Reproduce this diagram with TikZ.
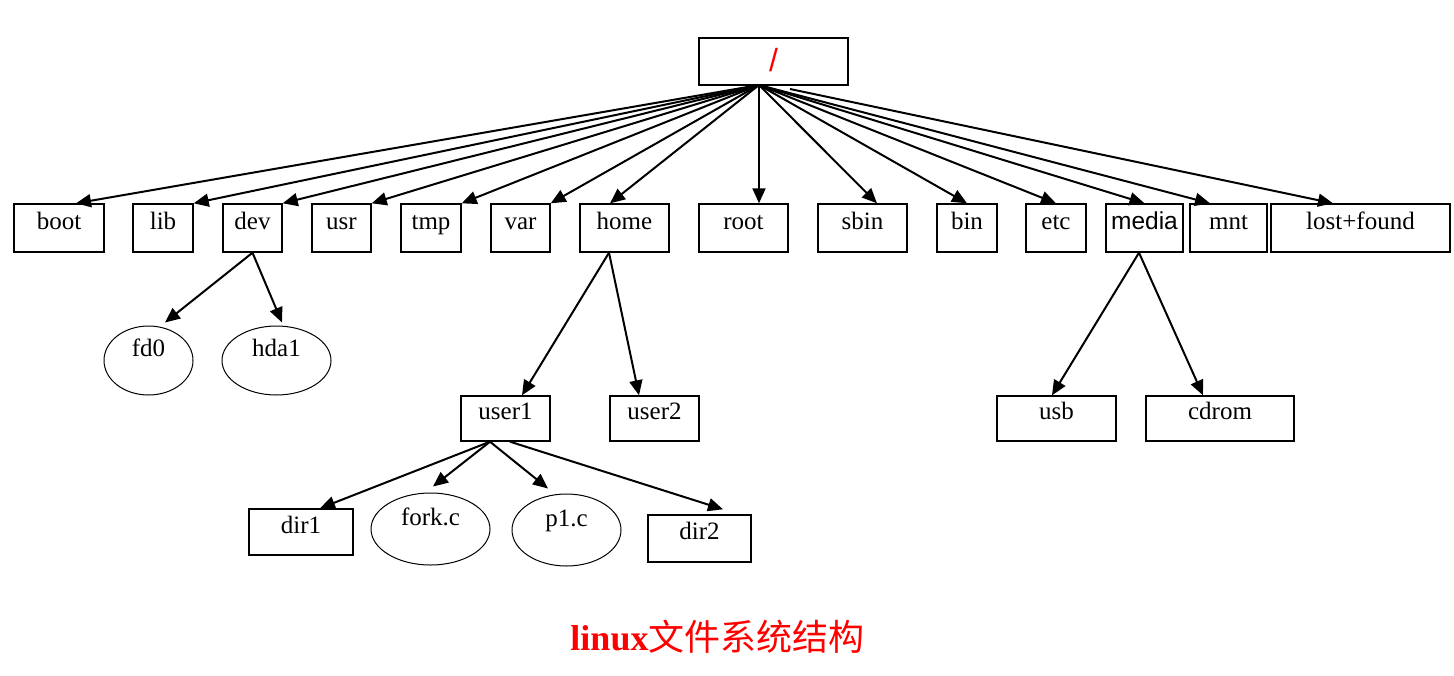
\documentclass[tikz,border=0pt]{standalone}
\usepackage{fontspec}
\setmainfont{Liberation Serif}
\newfontfamily\sansfont{Liberation Sans}
\newfontfamily\cjkfont{Noto Sans CJK SC}
\usepackage{tikz}
\usetikzlibrary{arrows.meta,shapes.geometric}

\begin{document}
\begin{tikzpicture}[x=1pt,y=-1pt,
    font=\fontsize{25}{28}\selectfont,
    dirbox/.style={draw, line width=1.4pt, rectangle, inner sep=0pt,
        minimum height=48pt, text height=16pt, text depth=14pt},
    filebox/.style={draw, line width=1pt, ellipse, inner sep=0pt,
        text height=10pt, text depth=18pt},
    link/.style={line width=2pt, -{Triangle[length=15pt,width=13pt]}}]
        \useasboundingbox (0,0) rectangle (1454,675);
        % root
        \node[dirbox, minimum width=149pt, minimum height=47pt, text height=25pt, text depth=5pt] (slash) at (773.5,61.5)
            {\fontsize{32}{36}\selectfont\sansfont\textcolor{red}{/}};
        \coordinate (src) at (759,85);
        \coordinate (srcb) at (790,89);
        % first level
        \node[dirbox, minimum width=90pt] (boot) at (59,228) {boot};
        \node[dirbox, minimum width=60pt] (lib) at (163,228) {lib};
        \node[dirbox, minimum width=59pt] (dev) at (252.5,228) {dev};
        \node[dirbox, minimum width=59pt] (usr) at (341.5,228) {usr};
        \node[dirbox, minimum width=60pt] (tmp) at (431,228) {tmp};
        \node[dirbox, minimum width=59pt] (var) at (520.5,228) {var};
        \node[dirbox, minimum width=89pt] (home) at (624.5,228) {home};
        \node[dirbox, minimum width=89pt] (rootdir) at (743.5,228) {root};
        \node[dirbox, minimum width=89pt] (sbin) at (862.5,228) {sbin};
        \node[dirbox, minimum width=60pt] (bin) at (967,228) {bin};
        \node[dirbox, minimum width=60pt] (etc) at (1056,228) {etc};
        \node[dirbox, minimum width=77pt, font=\fontsize{24.5}{28}\selectfont\sansfont] (media) at (1144.5,228) {media};
        \node[dirbox, minimum width=77pt] (mnt) at (1228.5,228) {mnt};
        \node[dirbox, minimum width=179pt] (lost) at (1360.5,228) {lost+found};
        \draw[link] (src) -- ([xshift=17pt]boot.north);
        \draw[link] (src) -- (lib.north east);
        \draw[link] (src) -- (dev.north east);
        \draw[link] (src) -- (usr.north east);
        \draw[link] (src) -- (tmp.north east);
        \draw[link] (src) -- (var.north east);
        \draw[link] (src) -- ([xshift=-14.5pt]home.north);
        \draw[link] (src) -- ([xshift=15.5pt]rootdir.north);
        \draw[link] (src) -- ([xshift=14.5pt]sbin.north);
        \draw[link] (src) -- (bin.north);
        \draw[link] (src) -- (etc.north);
        \draw[link] (src) -- (media.north);
        \draw[link] (src) -- ([xshift=-18.5pt]mnt.north);
        \draw[link] (srcb) -- ([xshift=-27.5pt]lost.north);
        % second level
        \node[filebox, minimum width=89pt, minimum height=69pt] (fd0) at (148.5,360.5) {fd0};
        \node[filebox, minimum width=109pt, minimum height=69pt] (hda1) at (276.5,360.5) {hda1};
        \node[dirbox, minimum width=89pt, minimum height=45pt] (user1) at (505.5,418.5) {user1};
        \node[dirbox, minimum width=89pt, minimum height=45pt] (user2) at (654.5,418.5) {user2};
        \node[dirbox, minimum width=119pt, minimum height=45pt] (usb) at (1056.5,418.5) {usb};
        \node[dirbox, minimum width=148pt, minimum height=45pt] (cdrom) at (1220,418.5) {cdrom};
        \draw[link] (dev.south) -- ([xshift=16.5pt,yshift=3pt]fd0.north);
        \draw[link] (dev.south) -- ([xshift=5.5pt,yshift=3pt]hda1.north);
        \draw[link] ([xshift=-15.5pt]home.south) -- ([xshift=16.5pt]user1.north);
        \draw[link] ([xshift=-15.5pt]home.south) -- ([xshift=-15.5pt]user2.north);
        \draw[link] ([xshift=-5.5pt]media.south) -- ([xshift=-4.5pt]usb.north);
        \draw[link] ([xshift=-5.5pt]media.south) -- ([xshift=-17pt]cdrom.north);
        % third level
        \node[dirbox, minimum width=104pt, minimum height=46pt] (dir1) at (301,532) {dir1};
        \node[filebox, minimum width=119pt, minimum height=72pt] (forkc) at (430.5,529) {fork.c};
        \node[filebox, minimum width=109pt, minimum height=72pt] (p1c) at (566.5,530) {p1.c};
        \node[dirbox, minimum width=103pt, minimum height=47pt] (dir2) at (699.5,538.5) {dir2};
        \draw[link] ([xshift=-15.5pt]user1.south) -- ([xshift=19pt]dir1.north);
        \draw[link] ([xshift=-15.5pt]user1.south) -- ([xshift=2.5pt,yshift=6pt]forkc.north);
        \draw[link] ([xshift=-15.5pt]user1.south) -- ([xshift=-18.5pt,yshift=5pt]p1c.north);
        \draw[link] ([xshift=4.5pt]user1.south) -- ([xshift=23.5pt,yshift=5pt]dir2.north);
        % title
        \node[anchor=base, text=red, font=\fontsize{36}{40}\selectfont] (title) at (717.5,650)
            {\textbf{linux}{\cjkfont 文件系统结构}};
        \end{tikzpicture}
\end{document}
